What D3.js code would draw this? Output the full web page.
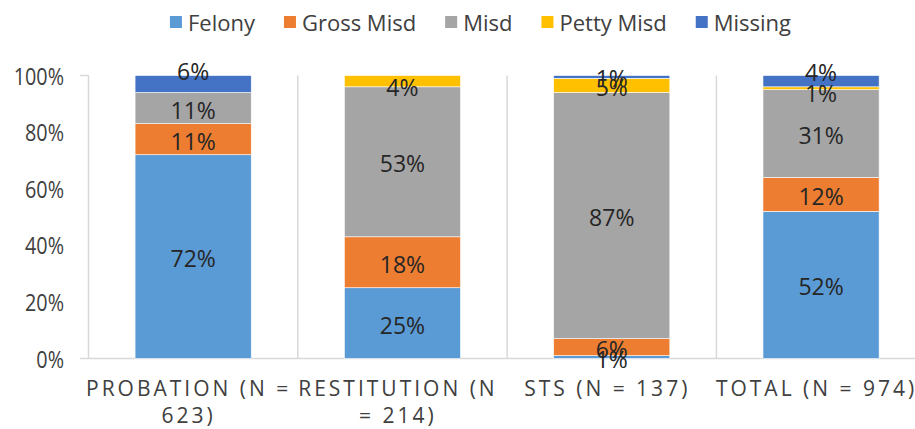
<!DOCTYPE html>
<html><head><meta charset="utf-8">
<script src="https://cdn.jsdelivr.net/npm/d3@7"></script>
<style>body{margin:0;background:#fff;overflow:hidden;} svg{display:block;font-family:"Open Sans",sans-serif;}</style>
</head><body><svg id="c" width="915" height="429"></svg>
<script>
const categories = ["PROBATION (N = 623)", "RESTITUTION (N = 214)", "STS (N = 137)", "TOTAL (N = 974)"];
const seriesNames = ["Felony", "Gross Misd", "Misd", "Petty Misd", "Missing"];
const felony    = [72, 25, 1, 52];
const grossMisd = [11, 18, 6, 12];
const misd      = [11, 53, 87, 31];
const pettyMisd = [0, 4, 5, 1];
const missing   = [6, 0, 1, 4];
const yTicks = [0, 20, 40, 60, 80, 100];
const colors = ["#5B9BD5", "#ED7D31", "#A5A5A5", "#FFC000", "#4472C4"];

(function () {
const seriesValues = [felony, grossMisd, misd, pettyMisd, missing];
const rows = categories.map((c, i) => {
  const r = {cat: c};
  seriesNames.forEach((s, j) => r[s] = seriesValues[j][i]);
  return r;
});

const svg = d3.select("#c");
const W = 915;
const pLeft = 88.5, pRight = 925.7, pTop = 75.5, pBottom = 358.5;
const SX = 0.86;

const x = d3.scaleBand().domain(categories).range([pLeft, pRight]).paddingInner(0.445).paddingOuter(0.2225);
const y = d3.scaleLinear().domain([0, 100]).range([pBottom, pTop]);

const step = x.step();
const seps = d3.range(categories.length + 1).map(i => pLeft + i * step);
svg.append("g").selectAll("line").data(seps).join("line")
  .attr("x1", d => d).attr("x2", d => d).attr("y1", pTop).attr("y2", pBottom)
  .attr("stroke", "#d9d9d9").attr("stroke-width", 1.5);
[0, 100].forEach(v => {
  svg.append("line").attr("x1", pLeft - 8.5).attr("x2", pLeft).attr("y1", y(v)).attr("y2", y(v))
    .attr("stroke", "#d9d9d9").attr("stroke-width", 1.5);
});
svg.append("line").attr("x1", pLeft).attr("x2", W).attr("y1", y(0)).attr("y2", y(0))
  .attr("stroke", "#d9d9d9").attr("stroke-width", 1.5);

svg.append("g").selectAll("text").data(yTicks).join("text")
  .attr("transform", d => `translate(64,${y(d)}) scale(${SX},1)`)
  .attr("text-anchor", "end").attr("dominant-baseline", "central")
  .attr("font-size", 23).attr("fill", "#404040")
  .text(d => d + "%");

const stack = d3.stack().keys(seriesNames)(rows);
const g = svg.append("g");
stack.forEach((layer, li) => {
  g.append("g").selectAll("rect").data(layer).join("rect")
    .attr("x", d => x(d.data.cat)).attr("width", x.bandwidth())
    .attr("y", d => y(d[1])).attr("height", d => y(d[0]) - y(d[1]))
    .attr("fill", colors[li]).attr("stroke", "#fff").attr("stroke-width", 0.6);
});

const nudge = {"0|Missing": -14, "3|Missing": -11, "3|Petty Misd": 3, "1|Petty Misd": 4};
const lg = svg.append("g");
stack.forEach((layer) => {
  layer.forEach((d, i) => {
    const v = d[1] - d[0];
    if (!v) return;
    const cy = y((d[0] + d[1]) / 2) + 1.5 + (nudge[i + "|" + layer.key] || 0);
    lg.append("text")
      .attr("transform", `translate(${x(d.data.cat) + x.bandwidth() / 2},${cy})`)
      .attr("text-anchor", "middle").attr("dominant-baseline", "central")
      .attr("font-size", 23).attr("fill", "#262626")
      .text(v + "%");
  });
});

const catG = svg.append("g");
const CF = 21, LS = 3.0;
categories.forEach(c => {
  const cx = x(c) + x.bandwidth() / 2 - 4.5;
  const words = c.split(" ");
  let lines = [], cur = [];
  const probe = catG.append("text").attr("font-size", CF).attr("letter-spacing", LS);
  words.forEach(w => {
    const test = cur.concat(w).join(" ");
    probe.text(test);
    if (probe.node().getComputedTextLength() > 213 && cur.length) {
      lines.push(cur.join(" ")); cur = [w];
    } else cur.push(w);
  });
  lines.push(cur.join(" "));
  probe.remove();
  lines.forEach((ln, k) => {
    catG.append("text").attr("font-size", CF).attr("letter-spacing", LS)
      .attr("fill", "#404040").attr("text-anchor", "middle")
      .attr("x", cx).attr("y", 396 + k * 27)
      .text(ln);
  });
});

const leg = svg.append("g");
let lx = 0;
seriesNames.forEach((s, i) => {
  const it = leg.append("g");
  it.append("rect").attr("x", 0).attr("y", 16).attr("width", 12).attr("height", 12).attr("fill", colors[i]);
  const tx = it.append("text").attr("x", 18).attr("y", 22)
    .attr("dominant-baseline", "central").attr("font-size", 22).attr("fill", "#404040").text(s);
  const w = 18 + tx.node().getComputedTextLength();
  it.attr("transform", `translate(${lx},0)`);
  lx += w + 29;
});
const totalW = lx - 29;
leg.attr("transform", `translate(${480.5 - totalW / 2},0)`);
})();
</script></body></html>
